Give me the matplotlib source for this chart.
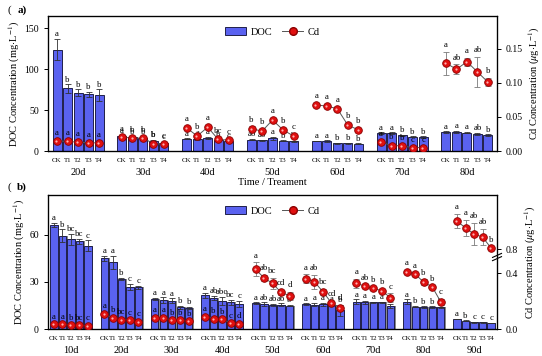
import matplotlib
matplotlib.use('Agg')
import matplotlib.pyplot as plt
from matplotlib.patches import Patch
from matplotlib.lines import Line2D
import numpy as np

plt.rcParams['font.family'] = 'Liberation Serif'
plt.rcParams['mathtext.fontset'] = 'stix'

treat = ['CK', 'T1', 'T2', 'T3', 'T4']

# panel (a)
days_a = ['20d', '30d', '40d', '50d', '60d', '70d', '80d']
doc_a = [[124, 76.5, 71.5, 69.5, 68.5],
         [18, 17, 16, 12, 10],
         [15, 15, 16, 13, 12],
         [14, 13, 15.5, 12.5, 12],
         [12.2, 12, 9.5, 9.5, 9],
         [22, 22, 19, 17.5, 17],
         [23, 23, 22.5, 21, 19.5]]
doc_a_err = [[13, 5, 4, 3, 7],
             [1, 1, 1, 2, 1],
             [0.5, 1, 1, 1, 0.5],
             [0.5, 0.5, 1.5, 0.5, 0.5],
             [0.5, 1, 0.5, 0.8, 0.5],
             [1, 1, 1, 0.5, 1],
             [1, 1.5, 1, 1.5, 1]]
doc_a_let = [['a', 'b', 'b', 'b', 'b'],
             ['a', 'b', 'b', 'b', 'c'],
             ['a', 'a', 'a', 'b', 'c'],
             ['ab', 'ab', 'a', 'b', 'b'],
             ['a', 'a', 'b', 'b', 'b'],
             ['a', 'a', 'b', 'b', 'b'],
             ['a', 'a', 'a', 'ab', 'b']]
cd_a = [[0.015, 0.014, 0.013, 0.012, 0.012],
        [0.0205, 0.019, 0.019, 0.011, 0.010],
        [0.034, 0.022, 0.035, 0.017, 0.016],
        [0.033, 0.029, 0.0455, 0.031, 0.022],
        [0.0675, 0.066, 0.062, 0.038, 0.031],
        [0.013, 0.008, 0.0075, 0.005, 0.005],
        [0.129, 0.120, 0.131, 0.116, 0.101]]
cd_a_err = [[0.002, 0.002, 0.002, 0.002, 0.002],
            [0.002, 0.002, 0.002, 0.002, 0.002],
            [0.003, 0.003, 0.003, 0.003, 0.002],
            [0.003, 0.003, 0.003, 0.003, 0.003],
            [0.003, 0.003, 0.003, 0.003, 0.003],
            [0.002, 0.002, 0.002, 0.001, 0.001],
            [0.017, 0.007, 0.006, 0.022, 0.006]]
cd_a_let = [['a', 'a', 'a', 'a', 'a'],
            ['a', 'b', 'b', 'b', 'c'],
            ['a', 'b', 'a', 'bc', 'c'],
            ['b', 'b', 'a', 'b', 'c'],
            ['a', 'a', 'a', 'b', 'b'],
            ['a', 'b', 'b', 'c', 'c'],
            ['a', 'ab', 'a', 'ab', 'b']]

# panel (b)
days_b = ['10d', '20d', '30d', '40d', '50d', '60d', '70d', '80d', '90d']
doc_b = [[66.4, 59.5, 57.4, 56, 53],
         [45, 42.5, 32, 27, 26.5],
         [19, 18.5, 18, 14, 13.5],
         [21.5, 20, 18, 17, 16],
         [16.5, 16, 15.5, 15.5, 15],
         [15.7, 15.5, 15.7, 15.5, 12],
         [17.5, 17, 17, 17, 14.7],
         [17.5, 14.3, 14, 14, 13.8],
         [6.4, 5.3, 4.3, 4.3, 3.8]]
doc_b_err = [[1.5, 4, 3.5, 1.5, 3.5],
             [1.5, 4, 0.5, 2, 1],
             [0.7, 1.8, 1.5, 1, 0.8],
             [1.5, 1.2, 2.5, 1.5, 2],
             [0.5, 1, 0.5, 0.8, 0.6],
             [0.6, 1, 1, 0.5, 3.5],
             [1.5, 1, 0.5, 0.5, 1],
             [1.5, 0.5, 0.5, 0.5, 0.5],
             [0.3, 0.3, 0.2, 0.2, 0.2]]
doc_b_let = [['a', 'b', 'bc', 'bc', 'c'],
             ['a', 'a', 'b', 'c', 'c'],
             ['a', 'a', 'a', 'b', 'b'],
             ['a', 'ab', 'abc', 'bc', 'c'],
             ['a', 'ab', 'ab', 'ab', 'b'],
             ['a', 'a', 'a', 'a', 'b'],
             ['a', 'a', 'a', 'a', 'b'],
             ['a', 'b', 'b', 'b', 'b'],
             ['a', 'b', 'c', 'c', 'c']]
cd_b = [[0.035, 0.034, 0.028, 0.026, 0.024],
        [0.107, 0.079, 0.067, 0.064, 0.052],
        [0.081, 0.079, 0.064, 0.062, 0.057],
        [0.088, 0.075, 0.071, 0.043, 0.036],
        [0.426, 0.366, 0.326, 0.262, 0.238],
        [0.36, 0.338, 0.266, 0.188, 0.152],
        [0.326, 0.307, 0.29, 0.274, 0.224],
        [0.41, 0.393, 0.334, 0.302, 0.195],
        [1.0, 0.95, 0.907, 0.886, 0.807]]
cd_b_err = [[0.005, 0.005, 0.005, 0.005, 0.005],
            [0.006, 0.006, 0.005, 0.005, 0.005],
            [0.005, 0.005, 0.005, 0.005, 0.005],
            [0.006, 0.005, 0.005, 0.005, 0.005],
            [0.05, 0.02, 0.04, 0.02, 0.03],
            [0.03, 0.05, 0.02, 0.015, 0.02],
            [0.03, 0.01, 0.01, 0.01, 0.03],
            [0.01, 0.01, 0.02, 0.01, 0.02],
            [0.05, 0.06, 0.08, 0.06, 0.01]]
cd_b_let = [['a', 'a', 'b', 'bc', 'c'],
            ['a', 'b', 'bc', 'c', 'c'],
            ['a', 'a', 'b', 'b', 'b'],
            ['a', 'b', 'b', 'c', 'd'],
            ['a', 'ab', 'bc', 'cd', 'd'],
            ['a', 'ab', 'bc', 'cd', 'd'],
            ['a', 'ab', 'b', 'b', 'c'],
            ['a', 'a', 'b', 'b', 'c'],
            ['a', 'a', 'ab', 'ab', 'b']]

bar_col = '#5a62f0'
red = '#e01010'


def fwd(y):
    y = np.asarray(y, dtype=float)
    return np.where(y <= 0.5, y,
                    np.where(y <= 0.8, 0.5 + (y - 0.5) * 0.238, 0.5714 + (y - 0.8)))


def inv(f):
    f = np.asarray(f, dtype=float)
    return np.where(f <= 0.5, f,
                    np.where(f <= 0.5714, 0.5 + (f - 0.5) / 0.238, 0.8 + (f - 0.5714)))


def panel(ax, days, doc, doc_err, doc_let, cd, cd_err, cd_let, step, margin, shadow):
    ax2 = ax.twinx()
    xs_all = []
    for g in range(len(days)):
        x = g * step + np.arange(5)
        xs_all += list(x)
        if shadow:
            ax.bar(x + 0.2, doc[g], 0.86, color='#8a8a8a', zorder=1)
        ax.bar(x, doc[g], 0.86, color=bar_col, edgecolor='#20204a', linewidth=0.7, zorder=2)
        ax.errorbar(x, doc[g], yerr=doc_err[g], fmt='none', ecolor='#303030',
                    elinewidth=0.6, capsize=2, capthick=0.6, zorder=3)
        for i in range(5):
            ax.annotate(doc_let[g][i], (x[i], doc[g][i] + doc_err[g][i]), xytext=(0, 0.5),
                        textcoords='offset points', ha='center', va='bottom', fontsize=6.3, zorder=4)
        ax2.errorbar(x, cd[g], yerr=cd_err[g], fmt='none', ecolor='#7a7a7a',
                     elinewidth=0.6, capsize=2, capthick=0.6, zorder=2)
        ax2.plot(x, cd[g], '-', color='#555555', lw=0.7, zorder=3)
        ax2.plot(x, cd[g], 'o', ms=5.5, mfc=red, mec='#8a0000', mew=0.6, zorder=4)
        ax2.plot(x - 0.08, cd[g], 'o', ms=1.6, mfc='#ffb0b0', mec='none', zorder=5)
        for i in range(5):
            ax2.annotate(cd_let[g][i], (x[i], cd[g][i] + cd_err[g][i]), xytext=(0, 2),
                         textcoords='offset points', ha='center', va='bottom', fontsize=6.3, zorder=6)
        trans = ax.get_xaxis_transform()
        ax.text(x[2], -0.125, days[g], transform=trans, ha='center', va='top', fontsize=7.5)
    ax.set_xticks(xs_all)
    ax.set_xticklabels(treat * len(days), fontsize=5)
    ax.tick_params(axis='x', length=0, pad=5)
    ax.set_xlim(-margin, (len(days) - 1) * step + 4 + margin)
    ax.tick_params(axis='y', labelsize=7, length=3, width=0.7)
    ax2.tick_params(axis='y', labelsize=7, length=3, width=0.7)
    for sp in ax.spines.values():
        sp.set_linewidth(0.9)
    ax.set_ylabel(r'DOC Concentration (mg$\cdot$L$^{-1}$)', fontsize=7.5, labelpad=2)
    ax2.set_ylabel(r'Cd Concentration ($\mu$g$\cdot$L$^{-1}$)', fontsize=7.5, labelpad=3)
    handles = [Patch(facecolor=bar_col, edgecolor='#20204a', linewidth=0.7),
               Line2D([], [], color='#555555', lw=0.7, marker='o', ms=5.5, mfc=red, mec='#8a0000')]
    ax.legend(handles, ['DOC', 'Cd'], ncol=2, frameon=False, loc='upper center',
              bbox_to_anchor=(0.5, 0.99), fontsize=7.5, handlelength=2.0, handleheight=0.9,
              columnspacing=1.0, handletextpad=0.4)
    return ax2


fig = plt.figure(figsize=(5.42, 3.56), dpi=100)
axa = fig.add_axes([0.0886, 0.5758, 0.8284, 0.379])
axb = fig.add_axes([0.0886, 0.0758, 0.8284, 0.3764])

a2 = panel(axa, days_a, doc_a, doc_a_err, doc_a_let, cd_a, cd_a_err, cd_a_let, 6.17, 0.86, False)
axa.set_ylim(0, 165)
axa.set_yticks([0, 50, 100, 150])
a2.set_ylim(0, 0.198)
a2.set_yticks([0, 0.05, 0.10, 0.15])
a2.set_yticklabels(['0.00', '0.05', '0.10', '0.15'])
axa.text(0.5, -0.2, 'Time / Treament', transform=axa.transAxes, ha='center', va='top', fontsize=7.5)
fig.text(0.015, 0.985, '( ', fontsize=8, va='top')
fig.text(0.032, 0.985, 'a)', fontsize=8, va='top', fontweight='bold')

b2 = panel(axb, days_b, doc_b, doc_b_err, doc_b_let, cd_b, cd_b_err, cd_b_let, 5.93, 0.7, True)
axb.set_ylim(0, 85.5)
axb.set_yticks([0, 30, 60])
b2.set_yscale('function', functions=(fwd, inv))
b2.set_ylim(0, 1.186)
b2.set_yticks([0, 0.4, 0.8])
b2.set_yticklabels(['0.0', '0.4', '0.8'])
b2.yaxis.set_minor_locator(matplotlib.ticker.NullLocator())
fig.text(0.015, 0.487, '( ', fontsize=8, va='top')
fig.text(0.032, 0.487, 'b)', fontsize=8, va='top', fontweight='bold')

# axis break marks on the right Cd axis
yb = float(fwd(0.56) / fwd(1.186))
for d in (-0.012, 0.012):
    b2.plot([0.99, 1.01], [yb + d - 0.015, yb + d + 0.015], transform=b2.transAxes,
            color='k', lw=0.8, clip_on=False, zorder=10)

fig.savefig('out.png', dpi=100)
